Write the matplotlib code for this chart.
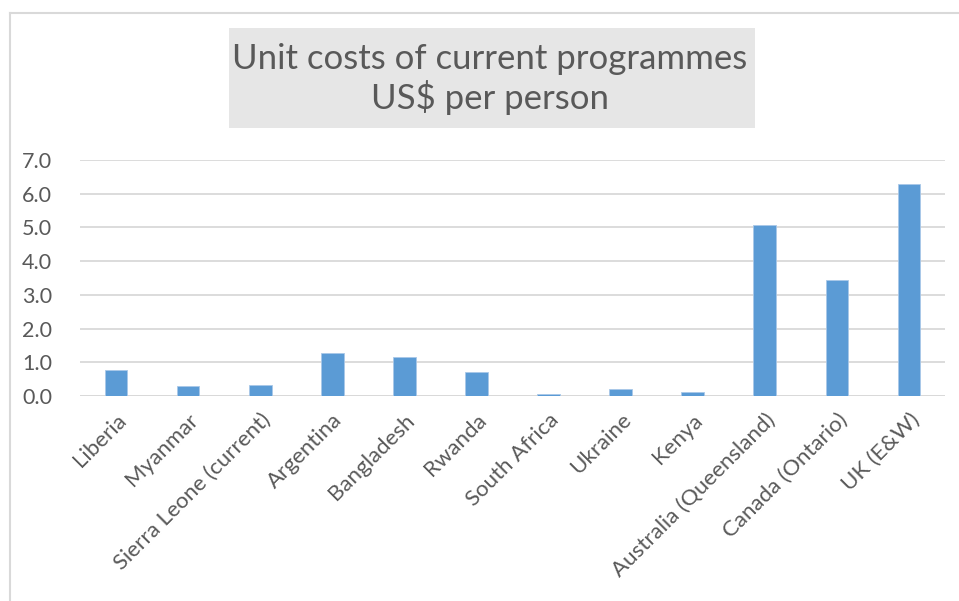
import matplotlib
matplotlib.use("Agg")
import matplotlib.pyplot as plt
from matplotlib.patches import Rectangle
from matplotlib.lines import Line2D

categories = ["Liberia", "Myanmar", "Sierra Leone (current)", "Argentina", "Bangladesh",
              "Rwanda", "South Africa", "Ukraine", "Kenya", "Australia (Queensland)",
              "Canada (Ontario)", "UK (E&W)"]
values = [0.78, 0.29, 0.33, 1.28, 1.15, 0.71, 0.06, 0.21, 0.11, 5.08, 3.43, 6.30]
yticks = [0, 1, 2, 3, 4, 5, 6, 7]
title = "Unit costs of current programmes\nUS$ per person"

plt.rcParams['font.family'] = ['Lato', 'DejaVu Sans']
txt = '#595959'
W, H = 959, 601
fig = plt.figure(figsize=(W/100, H/100), dpi=100)
fig.patch.set_facecolor('white')

# outer frame (left and top edges visible)
fig.add_artist(Line2D([10/W, 10/W], [0, 1-13/H], color='#D9D9D9', lw=1.5, transform=fig.transFigure))
fig.add_artist(Line2D([10/W, 1], [1-13/H, 1-13/H], color='#D9D9D9', lw=1.5, transform=fig.transFigure))

# title box
fig.add_artist(Rectangle((229/W, 1-128/H), (755-229)/W, 100/H, transform=fig.transFigure,
                         facecolor='#E6E6E6', edgecolor='none'))
fig.text(490/W, 1-79/H, title, ha='center', va='center', fontsize=25, color=txt,
         linespacing=1.15)

ax = fig.add_axes([80/W, 1-396/H, (945-80)/W, (396-160)/H])
x = list(range(len(categories)))
ax.bar(x, values, width=0.315, color='#5B9BD5', edgecolor='#A9C8E8', linewidth=0.6, zorder=3)
ax.set_xlim(-0.5, len(categories)-0.5)
ax.set_ylim(0, 7)
ax.set_yticks(yticks)
ax.set_yticklabels([f"{v:.1f}" for v in yticks], fontsize=15.5, color=txt)
ax.set_xticks(x)
ax.set_xticklabels(categories, rotation=45, ha='right', rotation_mode='anchor',
                   fontsize=16, color=txt)
ax.tick_params(axis='both', length=0)
ax.tick_params(axis='y', pad=20)
ax.tick_params(axis='x', pad=10)
ax.yaxis.grid(True, color='#D9D9D9', lw=1.3, zorder=0)
for s in ax.spines.values():
    s.set_visible(False)
ax.axhline(0, color='#D9D9D9', lw=1.3, zorder=1)

fig.savefig('out.png', dpi=100)
